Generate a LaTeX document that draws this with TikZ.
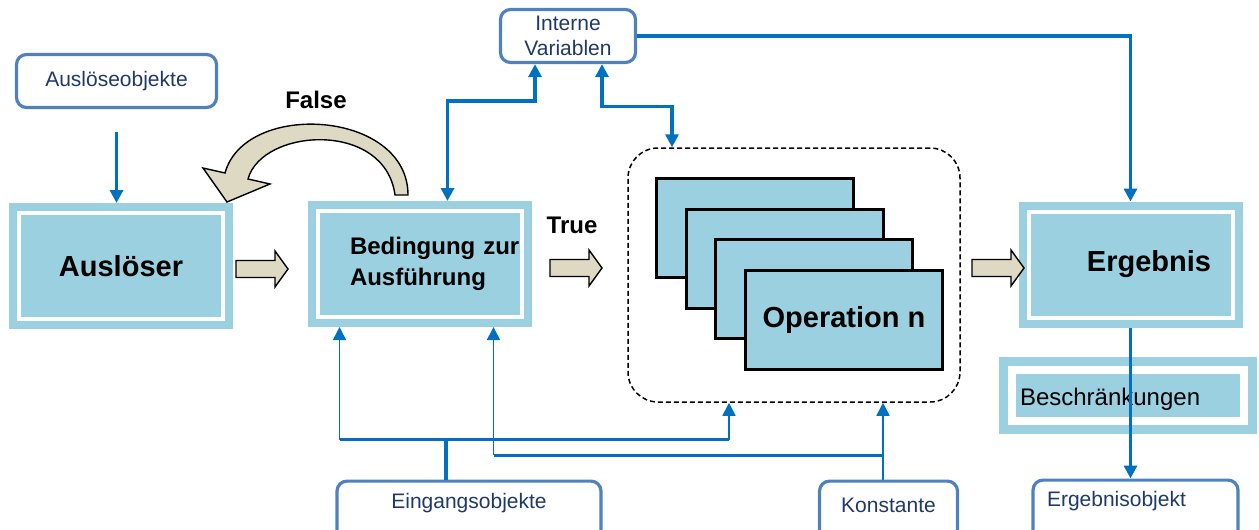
\documentclass[tikz,border=0pt]{standalone}
\usepackage{fontspec}
\setmainfont{Liberation Sans}
\usetikzlibrary{arrows.meta,positioning,calc}
\definecolor{boxfill}{HTML}{9BD0E0}
\definecolor{linkblue}{HTML}{0070C0}
\definecolor{objline}{HTML}{4F81BD}
\definecolor{objtext}{HTML}{1F3A68}
\definecolor{beige}{HTML}{DDD9C3}
\begin{document}
\begin{tikzpicture}[x=0.5pt,y=-0.5pt,>={Triangle[length=6.5pt,width=6.5pt]},
objbox/.style={draw=objline,line width=1.6pt,rounded corners=5pt,fill=white,text=objtext,inner sep=3pt,font=\fontsize{10.5}{12.5}\selectfont},
mainbox/.style={fill=boxfill,draw=boxfill,double=white,line width=4pt,double distance=2pt,minimum width=102pt,minimum height=53pt,inner sep=0pt,outer sep=5pt,font=\fontsize{14.5}{17}\selectfont\bfseries},
limitbox/.style={fill=boxfill,draw=boxfill,double=white,line width=4.5pt,double distance=4pt,minimum width=116pt,minimum height=25.5pt,inner sep=0pt,text width=108pt,align=left,text height=13pt,text depth=3pt,font=\fontsize{12}{14}\selectfont},
opbox/.style={draw=black,line width=1.5pt,fill=boxfill,minimum width=98.5pt,minimum height=49.5pt,inner sep=0pt},
groupbox/.style={draw=black,line width=0.75pt,dash pattern=on 2.5pt off 1.5pt,rounded corners=15pt,minimum width=166pt,minimum height=127pt},
fatarrow/.style={fill=beige,draw=black,line width=0.7pt,line join=miter},
link/.style={draw=linkblue,line width=1.6pt},
bus/.style={draw=linkblue,line width=1.5pt},
feed/.style={draw=linkblue,line width=0.8pt,->},
tag/.style={font=\fontsize{12}{14}\selectfont\bfseries}]
\useasboundingbox (0,0) rectangle (1259,530);
\node[objbox,minimum width=100pt,minimum height=26.5pt] (trigobj) at (116.5,81) {Auslöseobjekte};
\node[mainbox] (trig) at (121,266) {Auslöser};
\node[mainbox,font=\fontsize{12}{15.5}\selectfont\bfseries,text width=69.5pt,align=left] (cond) at (419.5,264) {Bedingung~zur\\Ausführung};
\node[objbox,minimum width=67.5pt,minimum height=26.5pt,align=center] (intvar) at (568,36) {Interne\\Variablen};
\node[groupbox] (opgroup) at (794,275) {};
\foreach \i in {0,1,2} \node[opbox] (op\i) at ({755+29.7*\i},{228+30.5*\i}) {};
\node[opbox,font=\fontsize{14.5}{17}\selectfont\bfseries] (opn) at (844,319.5) {Operation n};
\node[mainbox,text width=80.5pt,align=right] (res) at (1130.5,264.5) {Ergebnis};
\node[limitbox] (limits) at (1128,395.5) {Beschränkungen};
\node[objbox,anchor=north,minimum width=132pt,text height=10.5pt,text depth=22pt] (eingang) at (469,479.5) {Eingangsobjekte};
\node[objbox,anchor=north,minimum width=69pt,text height=12.75pt,text depth=20pt] (konst) at (888.5,479.5) {Konstante};
\node[objbox,anchor=north,text width=88.5pt,inner xsep=7pt,align=left,text height=10.25pt,text depth=22pt] (resobj) at (1135.5,478.5) {Ergebnisobjekt};
\node[tag] (false) at (316,100) {False};
\node[tag] (true) at (572,225) {True};
\draw[fatarrow] (395,195) -- (408,195) .. controls (408,110) and (245,100) .. (225,173) -- (203,168) -- (227,202) -- (270,184) -- (248,179) .. controls (262,128) and (385,120) .. (395,195) -- cycle;
\foreach \ax/\ay in {236/269,550/268,972/268} \draw[fatarrow] (\ax,\ay) ++(0,-8.5) -- ++(39,0) -- ++(0,-9.5) -- ++(13,18) -- ++(-13,18) -- ++(0,-9.5) -- ++(-39,0) -- cycle;
\draw[link,->] ([yshift=-11.5pt]trigobj.south) -- (trigobj.south |- trig.north);
\draw[link,<->] ([xshift=14pt]cond.north) -- ++(0,-100) -| ([xshift=-16.5pt]intvar.south);
\draw[link,<->] ([xshift=17pt]intvar.south) -- ++(0,42) -| ([xshift=-61pt]opgroup.north);
\draw[link,->] (intvar.east) -| (res.north);
\draw[link,->] (res.south) -- (res.south |- resobj.north);
\coordinate (cin1) at ([xshift=-40pt]cond.south);
\coordinate (cin2) at ([xshift=37pt]cond.south);
\coordinate (gin1) at ([xshift=-32.5pt]opgroup.south);
\coordinate (gin2) at ([xshift=44.5pt]opgroup.south);
\draw[bus,line width=1.8pt] ([xshift=-11.5pt]eingang.north) -- ++(0,-40) coordinate (ebus);
\draw[bus] (ebus -| cin1) -- (ebus -| gin1);
\draw[feed] (ebus -| cin1) -- (cin1);
\draw[feed] (ebus -| gin1) -- (gin1);
\path (konst.north -| gin2) ++(0,-24.5) coordinate (kbus);
\draw[bus] (kbus) -- (kbus -| cin2);
\draw[feed] (kbus -| cin2) -- (cin2);
\draw[feed] (konst.north -| gin2) -- (gin2);
\end{tikzpicture}
\end{document}
